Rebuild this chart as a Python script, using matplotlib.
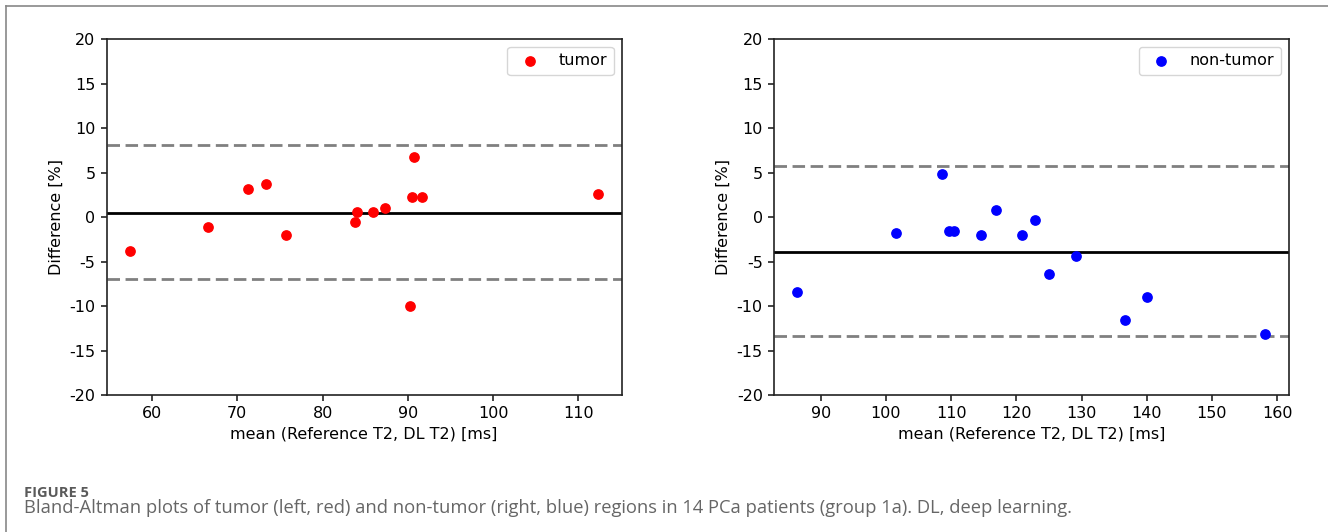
import matplotlib
matplotlib.use("Agg")
import matplotlib.pyplot as plt
from matplotlib.lines import Line2D

# values
tumor_mean_t2 = [57.4, 66.6, 71.3, 73.4, 75.7, 83.8, 84.0, 85.9, 87.3, 90.7, 90.5, 91.7, 90.3, 112.3]
tumor_diff = [-3.8, -1.1, 3.2, 3.7, -2.0, -0.5, 0.6, 0.6, 1.0, 6.7, 2.2, 2.2, -10.0, 2.6]
tumor_bias = 0.5
tumor_loa = [8.1, -7.0]

nontumor_mean_t2 = [86.4, 101.5, 108.6, 109.7, 110.5, 114.6, 116.9, 120.9, 122.9, 125.0, 129.2, 136.6, 140.1, 158.2]
nontumor_diff = [-8.4, -1.8, 4.8, -1.6, -1.6, -2.0, 0.8, -2.0, -0.3, -6.4, -4.4, -11.6, -9.0, -13.1]
nontumor_bias = -3.9
nontumor_loa = [5.7, -13.4]

yticks = [-20, -15, -10, -5, 0, 5, 10, 15, 20]
xlabel = "mean (Reference T2, DL T2) [ms]"
ylabel = "Difference [%]"

plt.rcParams['axes.unicode_minus'] = False
plt.rcParams['font.family'] = ['DejaVu Sans']

fig = plt.figure(figsize=(13.28, 5.32), dpi=100)

def bland_altman(ax, x, y, bias, loa, color, label):
    ax.scatter(x, y, s=45, color=color, label=label, zorder=3)
    ax.axhline(bias, color='black', lw=2)
    for v in loa:
        ax.axhline(v, color='gray', lw=2, ls='--', dashes=(4.5, 2))
    ax.set_ylim(-20, 20)
    ax.set_yticks(yticks)
    ax.set_xlabel(xlabel, fontsize=11.5)
    ax.set_ylabel(ylabel, fontsize=11.5)
    ax.tick_params(labelsize=11.5, color='#222222', width=1.2, length=4.5)
    for sp in ax.spines.values():
        sp.set_color('#222222')
        sp.set_linewidth(1.2)
    ax.legend(loc='upper right', fontsize=11.5, scatterpoints=1)

ax1 = fig.add_axes([0.0802, 0.2575, 0.3878, 0.669])
bland_altman(ax1, tumor_mean_t2, tumor_diff, tumor_bias, tumor_loa, 'red', 'tumor')

ax2 = fig.add_axes([0.5828, 0.2575, 0.3876, 0.669])
bland_altman(ax2, nontumor_mean_t2, nontumor_diff, nontumor_bias, nontumor_loa, 'blue', 'non-tumor')

# page frame (top and left edges)
fig.add_artist(Line2D([6/1328, 1], [1-5.5/532, 1-5.5/532], color='#888888', lw=1.2))
fig.add_artist(Line2D([6/1328, 6/1328], [0, 1-5.5/532], color='#888888', lw=1.2))

fig.text(24/1328, 1-497/532, "FIGURE 5", fontsize=10.5, fontweight='bold',
         color='#5a5a5a', family=['Open Sans', 'DejaVu Sans'], va='baseline')
fig.text(24/1328, 1-513/532,
         "Bland-Altman plots of tumor (left, red) and non-tumor (right, blue) regions in 14 PCa patients (group 1a). DL, deep learning.",
         fontsize=13.25, color='#666666', family=['Open Sans', 'DejaVu Sans'], va='baseline')

fig.savefig("out.png", dpi=100)
